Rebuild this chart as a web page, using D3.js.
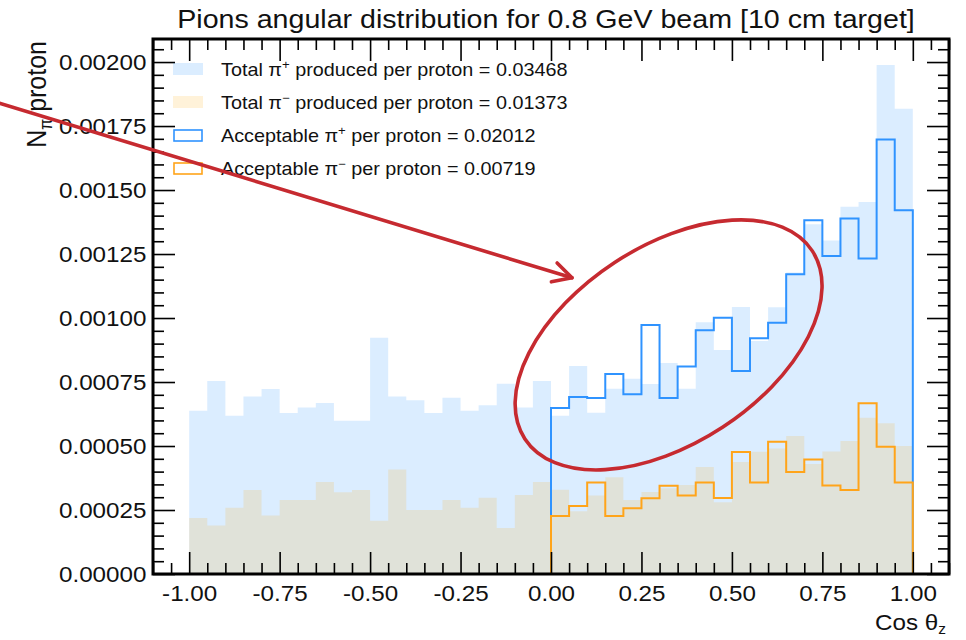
<!DOCTYPE html>
<html lang="en">
  <head>
    <meta charset="UTF-8" />
    <title>Pions angular distribution</title>
    <script src="https://d3js.org/d3.v7.min.js"></script>
    <style>
      body { margin: 0; background: #fff; }
      text { font-family: "Liberation Sans", Arial, sans-serif; fill: #111; }
    </style>
  </head>
  <body>
    <svg id="chart"></svg>
    <script>
      const width = 966
      const height = 640

      // bin lower edges, cos theta_z, 40 bins of 0.05 from -1 to 1
      const binEdges = d3.range(40).map(i => +(-1 + i * 0.05).toFixed(2))
      const accEdges = binEdges.slice(20) // acceptable histograms only cover 0..1

      const totalPiPlus = [
        0.000638, 0.000754, 0.000618, 0.000693, 0.000723, 0.000629, 0.000650, 0.000668, 0.000599, 0.000599,
        0.000923, 0.000693, 0.000679, 0.000629, 0.000689, 0.000638, 0.000659, 0.000743, 0.000650, 0.000754,
        0.000618, 0.000813, 0.000630, 0.000724, 0.000763, 0.000742, 0.000824, 0.000724, 0.000983, 0.000875,
        0.001043, 0.000910, 0.001042, 0.001178, 0.001366, 0.001303, 0.001435, 0.001453, 0.001988, 0.001818
      ]
      const totalPiMinus = [
        0.000219, 0.000189, 0.000259, 0.000328, 0.000229, 0.000289, 0.000289, 0.000359, 0.000319, 0.000328,
        0.000208, 0.000408, 0.000250, 0.000250, 0.000289, 0.000259, 0.000298, 0.000180, 0.000309, 0.000359,
        0.000329, 0.000245, 0.000307, 0.000378, 0.000289, 0.000320, 0.000335, 0.000348, 0.000418, 0.000280,
        0.000438, 0.000478, 0.000490, 0.000539, 0.000430, 0.000479, 0.000520, 0.000610, 0.000589, 0.000500
      ]
      const accPiPlus = [
        0.000648, 0.000691, 0.000688, 0.000781, 0.000702, 0.000973, 0.000688, 0.000811, 0.000952, 0.001001,
        0.000793, 0.000921, 0.000982, 0.001171, 0.001382, 0.001242, 0.001389, 0.001233, 0.001697, 0.001421
      ]
      const accPiMinus = [
        0.000227, 0.000266, 0.000357, 0.000227, 0.000257, 0.000296, 0.000345, 0.000307, 0.000357, 0.000297,
        0.000477, 0.000357, 0.000517, 0.000398, 0.000447, 0.000346, 0.000328, 0.000667, 0.000497, 0.000357
      ]

      const xTicks = [-1, -0.75, -0.5, -0.25, 0, 0.25, 0.5, 0.75, 1]
      const yTicks = [0, 0.00025, 0.0005, 0.00075, 0.001, 0.00125, 0.0015, 0.00175, 0.002]

      const blueFill = 'rgba(30,144,255,0.16)'
      const orangeFill = 'rgba(255,165,0,0.15)'
      const blueLine = '#2f93ff'
      const orangeLine = '#ffa41a'
      const red = '#c62a30'
      const sx = 1.1 // picture is a little wider than tall

      const legendItems = [
        { pre: 'Total \u03c0', sup: '+', post: ' produced per proton = 0.03468', kind: 'fill', color: blueFill },
        { pre: 'Total \u03c0', sup: '\u2212', post: ' produced per proton = 0.01373', kind: 'fill', color: orangeFill },
        { pre: 'Acceptable \u03c0', sup: '+', post: ' per proton = 0.02012', kind: 'line', color: blueLine },
        { pre: 'Acceptable \u03c0', sup: '\u2212', post: ' per proton = 0.00719', kind: 'line', color: orangeLine }
      ]

      const plot = { left: 153, right: 949, top: 39, bottom: 574 }

      const x = d3.scaleLinear().domain([-1.1, 1.1]).range([plot.left, plot.right])
      const y = d3.scaleLinear().domain([0, 0.00209]).range([plot.bottom, plot.top])

      const svg = d3.select('#chart').attr('width', width).attr('height', height)

      // filled histograms
      const area = d3.area()
        .x(d => x(d[0]))
        .y0(y(0))
        .y1(d => y(d[1]))
        .curve(d3.curveStepAfter)

      const fillPts = vals => vals.map((v, i) => [binEdges[i], v]).concat([[1, vals[vals.length - 1]]])

      svg.append('path').attr('d', area(fillPts(totalPiPlus))).attr('fill', blueFill)
      svg.append('path').attr('d', area(fillPts(totalPiMinus))).attr('fill', orangeFill)

      // outlined histograms
      const line = d3.line()
        .x(d => x(d[0]))
        .y(d => y(d[1]))
        .curve(d3.curveStepAfter)

      const stepPts = vals => [[0, 0]]
        .concat(vals.map((v, i) => [accEdges[i], v]))
        .concat([[1, vals[vals.length - 1]], [1, 0]])

      svg.append('path').attr('d', line(stepPts(accPiPlus)))
        .attr('fill', 'none').attr('stroke', blueLine).attr('stroke-width', 2)
      svg.append('path').attr('d', line(stepPts(accPiMinus)))
        .attr('fill', 'none').attr('stroke', orangeLine).attr('stroke-width', 2)

      // axes, ticks pointing inward on all four sides
      const xMinor = d3.range(-22, 23).map(i => +(i * 0.05).toFixed(2)).filter(v => !xTicks.includes(v))
      const yMinor = d3.range(0, 42).map(i => +(i * 0.00005).toFixed(5)).filter(v => !yTicks.includes(v))

      const axes = svg.append('g').attr('class', 'axes')

      const axB = axes.append('g').attr('transform', `translate(0,${plot.bottom})`)
      axB.call(d3.axisBottom(x).tickValues(xTicks).tickSize(-22).tickPadding(11).tickFormat(d => d.toFixed(2)))
      axB.append('g').call(d3.axisBottom(x).tickValues(xMinor).tickSize(-11).tickFormat(''))

      const axT = axes.append('g').attr('transform', `translate(0,${plot.top})`)
      axT.call(d3.axisTop(x).tickValues(xTicks).tickSize(-22).tickFormat(''))
      axT.append('g').call(d3.axisTop(x).tickValues(xMinor).tickSize(-11).tickFormat(''))

      const axL = axes.append('g').attr('transform', `translate(${plot.left},0)`)
      axL.call(d3.axisLeft(y).tickValues(yTicks).tickSize(-22).tickPadding(6).tickFormat(d => d.toFixed(5)))
      axL.append('g').call(d3.axisLeft(y).tickValues(yMinor).tickSize(-11).tickFormat(''))

      const axR = axes.append('g').attr('transform', `translate(${plot.right},0)`)
      axR.call(d3.axisRight(y).tickValues(yTicks).tickSize(-22).tickFormat(''))
      axR.append('g').call(d3.axisRight(y).tickValues(yMinor).tickSize(-11).tickFormat(''))

      axes.selectAll('.domain').remove()
      axes.selectAll('.tick line').attr('stroke', '#000').attr('stroke-width', 1.6)
      axes.selectAll('.tick text')
        .attr('font-size', 22)
        .attr('fill', '#111')
        .attr('font-family', '"Liberation Sans", Arial, sans-serif')
        .attr('transform', `scale(${sx},1)`)
      axL.selectAll('.tick text').attr('dy', '0.36em')

      svg.append('rect')
        .attr('x', plot.left).attr('y', plot.top)
        .attr('width', plot.right - plot.left).attr('height', plot.bottom - plot.top)
        .attr('fill', 'none').attr('stroke', '#000').attr('stroke-width', 3)

      // title and axis labels
      svg.append('text')
        .attr('transform', `translate(546,28) scale(${sx},1)`)
        .attr('text-anchor', 'middle')
        .attr('font-size', 26)
        .text('Pions angular distribution for 0.8 GeV beam [10 cm target]')

      const xl = svg.append('text')
        .attr('transform', `translate(946,630) scale(${sx},1)`)
        .attr('text-anchor', 'end')
        .attr('font-size', 22)
      xl.append('tspan').text('Cos \u03b8')
      xl.append('tspan').attr('font-size', 14).attr('dy', 4).text('z')

      const yl = svg.append('text')
        .attr('transform', `translate(46,41) rotate(-90) scale(1,${sx})`)
        .attr('text-anchor', 'end')
        .attr('font-size', 25)
      yl.append('tspan').text('N')
      yl.append('tspan').attr('font-size', 16).attr('dy', 5).text('\u03c0')
      yl.append('tspan').attr('dy', -5).text(' proton')

      // legend
      const legend = svg.append('g')
      const rowY = d3.scalePoint().domain(d3.range(legendItems.length)).range([69, 168])
      legendItems.forEach((it, i) => {
        const cy = rowY(i)
        if (it.kind === 'fill') {
          legend.append('rect').attr('x', 173).attr('y', cy - 6).attr('width', 30).attr('height', 12)
            .attr('fill', it.color)
        } else {
          legend.append('rect').attr('x', 174).attr('y', cy - 5).attr('width', 28).attr('height', 11)
            .attr('fill', 'none').attr('stroke', it.color).attr('stroke-width', 1.6)
        }
        const t = legend.append('text')
          .attr('transform', `translate(221,${cy + 6.5}) scale(${sx},1)`)
          .attr('font-size', 18)
        t.append('tspan').text(it.pre)
        t.append('tspan').attr('font-size', 12).attr('dy', -7).text(it.sup)
        t.append('tspan').attr('dy', 7).text(it.post)
      })

      // hand-drawn annotation: arrow pointing at the ellipse around the rising acceptable pi+ bins
      const arrowTail = [-1.537, 0.001845]
      const arrowTip = [0.058, 0.001157]
      const ellipseCenter = [0.325, 0.000895]

      const ann = svg.append('g').attr('fill', 'none').attr('stroke', red).attr('stroke-width', 3.6)
        .attr('stroke-linecap', 'round')
      const tx = x(arrowTip[0]), ty = y(arrowTip[1])
      const ang = Math.atan2(ty - y(arrowTail[1]), tx - x(arrowTail[0]))
      ann.append('line')
        .attr('x1', x(arrowTail[0])).attr('y1', y(arrowTail[1]))
        .attr('x2', tx).attr('y2', ty)
      const wing = 21, spread = 28 * Math.PI / 180
      ann.append('path').attr('stroke-linejoin', 'round').attr('d',
        `M${tx - wing * Math.cos(ang - spread)},${ty - wing * Math.sin(ang - spread)}` +
        `L${tx},${ty}` +
        `L${tx - wing * Math.cos(ang + spread)},${ty - wing * Math.sin(ang + spread)}`)
      ann.append('ellipse')
        .attr('transform', `translate(${x(ellipseCenter[0])},${y(ellipseCenter[1])}) rotate(-33.2)`)
        .attr('rx', 171.7).attr('ry', 98.5)
    </script>
  </body>
</html>
